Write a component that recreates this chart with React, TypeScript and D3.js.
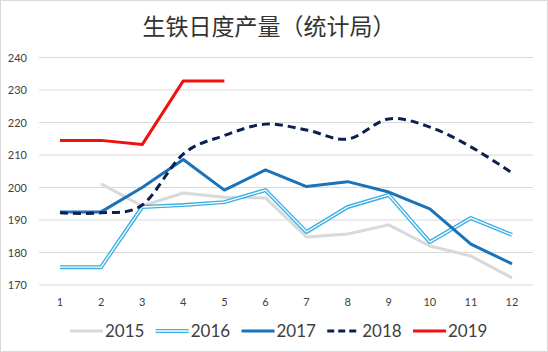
import {useEffect, useRef} from "react";
import * as d3 from "d3";

const months = ["1", "2", "3", "4", "5", "6", "7", "8", "9", "10", "11", "12"];
const yTicks = [170, 180, 190, 200, 210, 220, 230, 240];

const s2015 = [null, 201.1, 194.3, 198.3, 197.0, 196.8, 184.8, 185.7, 188.5, 182.0, 178.9, 172.2];
const s2016 = [175.5, 175.5, 194.0, 194.6, 195.5, 199.2, 186.3, 194.0, 197.7, 183.2, 190.6, 185.4];
const s2017 = [192.5, 192.5, 200.0, 208.6, 199.2, 205.4, 200.3, 201.8, 198.6, 193.4, 182.6, 176.5];
const s2018 = [192.2, 192.2, 194.6, 210.3, 216.0, 219.5, 217.7, 214.9, 221.1, 218.6, 212.5, 204.5];
const s2019 = [214.5, 214.5, 213.2, 232.8, 232.8];

const seriesNames = ["2015", "2016", "2017", "2018", "2019"];

function App() {
    const ref = useRef(null);

    useEffect(() => {
        const width = 548, height = 352;
        const svg = d3.select(ref.current)
            .attr("width", width)
            .attr("height", height);
        svg.selectAll("*").remove();

        svg.append("rect")
            .attr("x", 0.5).attr("y", 0.5)
            .attr("width", width - 1).attr("height", height - 1)
            .attr("fill", "#fff")
            .attr("stroke", "#d9d9d9");

        svg.append("text")
            .attr("x", 269).attr("y", 35)
            .attr("text-anchor", "middle")
            .style("font-family", "'Noto Sans CJK SC', sans-serif")
            .style("font-size", "23px")
            .attr("fill", "#333")
            .text("生铁日度产量（统计局）");

        const x = d3.scalePoint()
            .domain(months)
            .range([60, 512]);

        const y = d3.scaleLinear()
            .domain([170, 240])
            .range([285, 57.5]);

        // gridlines
        svg.append("g")
            .selectAll("line")
            .data(yTicks)
            .enter()
            .append("line")
            .attr("x1", 39).attr("x2", 533)
            .attr("y1", d => y(d)).attr("y2", d => y(d))
            .attr("stroke", "#d9d9d9")
            .attr("stroke-width", 1);

        const font = "Lato, 'Open Sans', sans-serif";

        svg.append("g")
            .selectAll("text")
            .data(yTicks)
            .enter()
            .append("text")
            .attr("x", 27)
            .attr("y", d => y(d) + 4)
            .attr("text-anchor", "end")
            .style("font-family", font)
            .style("font-size", "11px")
            .attr("fill", "#404040")
            .text(d => d);

        svg.append("g")
            .selectAll("text")
            .data(months)
            .enter()
            .append("text")
            .attr("x", d => x(d))
            .attr("y", 306)
            .attr("text-anchor", "middle")
            .style("font-family", font)
            .style("font-size", "11px")
            .attr("fill", "#404040")
            .text(d => d);

        const line = d3.line()
            .defined(d => d.v != null)
            .x(d => x(d.m))
            .y(d => y(d.v));

        const smooth = d3.line()
            .x(d => x(d.m))
            .y(d => y(d.v))
            .curve(d3.curveCardinal.tension(0));

        const toPts = arr => arr.map((v, i) => ({m: months[i], v: v}));

        const g = svg.append("g").attr("stroke-linejoin", "round").attr("fill", "none");

        g.append("path").attr("d", line(toPts(s2015)))
            .attr("stroke", "#d9d9d9").attr("stroke-width", 3);

        g.append("path").attr("d", line(toPts(s2016)))
            .attr("stroke", "#3bb0e3").attr("stroke-width", 4);
        g.append("path").attr("d", line(toPts(s2016)))
            .attr("stroke", "#fff").attr("stroke-width", 1.3);

        g.append("path").attr("d", line(toPts(s2017)))
            .attr("stroke", "#1a72b8").attr("stroke-width", 3);

        g.append("path").attr("d", smooth(toPts(s2018)))
            .attr("stroke", "#0c2050").attr("stroke-width", 3)
            .attr("stroke-dasharray", "8,5");

        g.append("path").attr("d", line(toPts(s2019)))
            .attr("stroke", "#f01010").attr("stroke-width", 3);

        // legend
        const legendX = d3.scalePoint()
            .domain(seriesNames)
            .range([70, 413]);
        const ly = 331;
        const lg = svg.append("g");
        const styles = {
            "2015": {c: "#d9d9d9", dash: null},
            "2016": {c: "#3bb0e3", dash: null},
            "2017": {c: "#1a72b8", dash: null},
            "2018": {c: "#0c2050", dash: "7,4"},
            "2019": {c: "#f01010", dash: null},
        };
        seriesNames.forEach(name => {
            const lx = legendX(name);
            const st = styles[name];
            lg.append("line")
                .attr("x1", lx).attr("x2", lx + 33)
                .attr("y1", ly).attr("y2", ly)
                .attr("stroke", st.c)
                .attr("stroke-width", name === "2016" ? 4 : 3)
                .attr("stroke-dasharray", st.dash);
            if (name === "2016") {
                lg.append("line")
                    .attr("x1", lx).attr("x2", lx + 33)
                    .attr("y1", ly).attr("y2", ly)
                    .attr("stroke", "#fff").attr("stroke-width", 1.3);
            }
            lg.append("text")
                .attr("x", lx + 35)
                .attr("y", ly + 6)
                .style("font-family", font)
                .style("font-size", "17px")
                .attr("fill", "#404040")
                .text(name);
        });
    }, []);

    return (
        <div style={{position: "absolute", left: 0, top: 0}}>
            <svg ref={ref}></svg>
        </div>
    );
}

export default App;
